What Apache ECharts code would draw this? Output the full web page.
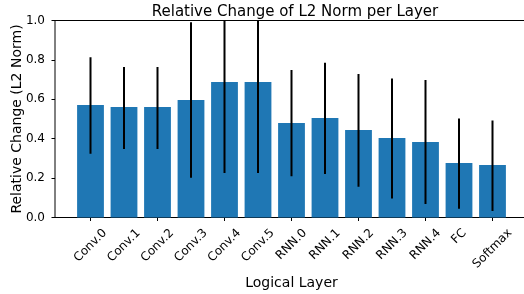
<!DOCTYPE html>
<html>
<head>
<meta charset="utf-8">
<script src="https://cdn.jsdelivr.net/npm/echarts@6/dist/echarts.min.js"></script>
<style>
html,body{margin:0;padding:0;background:#fff;}
#chart{width:524px;height:294px;}
</style>
</head>
<body>
<div id="chart"></div>
<script>
// 数据
var layers=['Conv.0','Conv.1','Conv.2','Conv.3','Conv.4','Conv.5','RNN.0','RNN.1','RNN.2','RNN.3','RNN.4','FC','Softmax'];
var meanVals=[0.571,0.561,0.561,0.596,0.688,0.688,0.480,0.505,0.444,0.404,0.383,0.277,0.266];
var errLow=[0.324,0.348,0.348,0.202,0.226,0.226,0.209,0.221,0.156,0.097,0.069,0.045,0.033];
var errHigh=[0.813,0.764,0.764,0.991,1.150,1.150,0.749,0.786,0.728,0.705,0.698,0.502,0.493];

var errData=[],labelData=[];
for(var i=0;i<layers.length;i++){
    errData.push([i,errLow[i],errHigh[i]]);
    labelData.push([i,0]);
}

var font='DejaVu Sans';
var tickFont='12px "DejaVu Sans"';
var measureCtx=document.createElement('canvas').getContext('2d');
measureCtx.font=tickFont;

var chart=echarts.init(document.getElementById('chart'));
var option={
    animation:false,
    title:{
        text:'Relative Change of L2 Norm per Layer',
        left:290,
        textAlign:'center',
        top:0,
        textStyle:{fontFamily:font,fontSize:15,fontWeight:'normal',color:'#000'}
    },
    grid:[
        {   // 坐标框
            left:55,right:-4,top:20.5,height:197,outerBoundsMode:'none',containLabel:false,
            show:true,borderColor:'#000',borderWidth:1,backgroundColor:'transparent'
        },
        {   // 柱子
            left:73.75,width:435.5,top:20.5,height:197,outerBoundsMode:'none',containLabel:false
        }
    ],
    xAxis:[
        {
            gridIndex:0,type:'value',min:0,max:1,
            axisLabel:{show:false},axisTick:{show:false},splitLine:{show:false},
            axisLine:{show:false},
            name:'Logical Layer',nameLocation:'middle',nameGap:59,nameMoveOverlap:false,
            nameTextStyle:{fontFamily:font,fontSize:14,color:'#000'}
        },
        {
            gridIndex:1,type:'category',data:layers,
            axisLine:{show:false},
            axisTick:{show:true,alignWithLabel:true,length:3.5,inside:false,lineStyle:{color:'#000'}},
            axisLabel:{show:false}
        }
    ],
    yAxis:[
        {
            gridIndex:0,type:'value',min:0,max:1,interval:0.2,
            axisLine:{show:false},
            axisTick:{show:true,length:3.5,lineStyle:{color:'#000'}},
            splitLine:{show:false},
            axisLabel:{fontFamily:font,fontSize:12,color:'#000',margin:10,
                formatter:function(v){return v.toFixed(1);}},
            name:'Relative Change (L2 Norm)',nameLocation:'middle',nameGap:31,nameMoveOverlap:false,
            nameTextStyle:{fontFamily:font,fontSize:14,color:'#000'}
        },
        {
            gridIndex:1,type:'value',min:0,max:1,show:false
        }
    ],
    series:[
        {
            type:'bar',xAxisIndex:1,yAxisIndex:1,
            data:meanVals,barWidth:'80%',
            itemStyle:{color:'#1f77b4'}
        },
        {   // 误差线
            type:'custom',xAxisIndex:1,yAxisIndex:1,clip:true,
            data:errData,
            renderItem:function(params,api){
                var p1=api.coord([api.value(0),api.value(1)]);
                var p2=api.coord([api.value(0),api.value(2)]);
                return {
                    type:'line',
                    shape:{x1:p1[0],y1:p1[1],x2:p2[0],y2:p2[1]},
                    style:{stroke:'#000',lineWidth:2}
                };
            },
            z:5
        },
        {   // 45度标签, 水平居中, 顶端对齐
            type:'custom',xAxisIndex:1,yAxisIndex:1,clip:false,silent:true,
            data:labelData,
            renderItem:function(params,api){
                var idx=api.value(0);
                var p=api.coord([idx,api.value(1)]);
                var name=layers[idx];
                var w=measureCtx.measureText(name).width;
                var cap=12*0.73;
                var yc=p[1]+10.5+(w+cap)/(2*Math.SQRT2);
                return {
                    type:'text',
                    x:p[0],y:yc,
                    rotation:Math.PI/4,
                    style:{text:name,font:tickFont,fill:'#000',align:'center',verticalAlign:'middle'}
                };
            }
        }
    ]
};
chart.setOption(option);
</script>
</body>
</html>
